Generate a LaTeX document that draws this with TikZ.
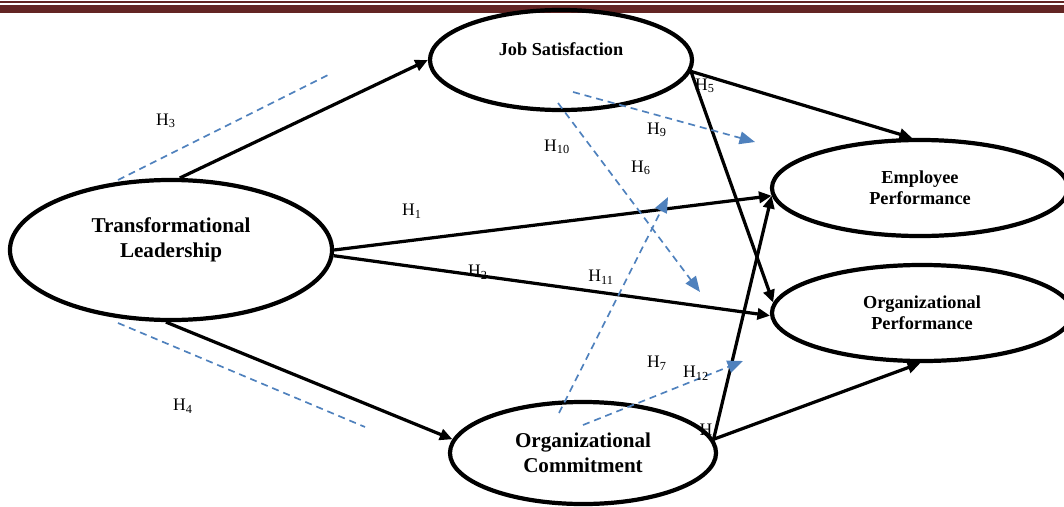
\documentclass[tikz,border=0pt]{standalone}
\usepackage{fontspec}
\setmainfont{Liberation Serif}
\usetikzlibrary{shapes.geometric,arrows.meta}
\definecolor{hdrred}{HTML}{632523}
\definecolor{hypblue}{HTML}{4F81BD}

\begin{document}
\begin{tikzpicture}[x=0.025cm,y=-0.025cm,
		construct/.style={ellipse, draw, line width=3pt, inner sep=0pt, align=center},
		bigtxt/.style={font=\fontsize{15}{17.5}\selectfont\bfseries},
		smalltxt/.style={font=\fontsize{13}{15}\selectfont\bfseries},
		effect/.style={line width=2.3pt, -{Triangle[length=9pt,width=8pt]}},
		hyp/.style={hypblue, line width=1.2pt, dash pattern=on 5pt off 3.5pt},
		hyparrow/.style={hyp, -{Triangle[length=11pt,width=9pt]}},
		hlab/.style={font=\fontsize{12.5}{14}\selectfont, inner sep=0pt}]
		\useasboundingbox (0,0) rectangle (1064,506);

		% header rule
		\fill[hdrred] (0,1) rectangle (1064,2.7);
		\fill[hdrred] (0,4.7) rectangle (1064,12.7);

		% constructs
		\draw (171,250) node[construct, bigtxt, minimum width=8.05cm, minimum height=3.5cm, text depth=17.5pt] (TL) {Transformational\\Leadership};
		\draw (561,60) node[construct, smalltxt, minimum width=6.55cm, minimum height=2.5cm, text depth=15pt] (JS) {Job Satisfaction};
		\draw (920,188) node[construct, smalltxt, minimum width=7.4cm, minimum height=2.4cm] (EP) {Employee\\Performance};
		\draw (922,313) node[construct, smalltxt, minimum width=7.5cm, minimum height=2.4cm] (OP) {Organizational\\Performance};
		\draw (583,453) node[construct, bigtxt, minimum width=6.65cm, minimum height=2.55cm] (OC) {Organizational\\Commitment};

		% direct paths
		\draw [effect] (TL.83) -- (JS.west);
		\draw [effect] (TL.east) -- (EP.183);
		\draw [effect] (TL.358) -- (OP.181);
		\draw [effect] (TL.266) -- (OC.174);
		\draw [effect] (JS.355) -- (EP.99);
		\draw [effect] (JS.355) -- (OP.176);
		\draw [effect] (OC.6) -- (EP.183);
		\draw [effect] (OC.6) -- (OP.268);

		% mediation lines
		\coordinate (h3a) at (118,180);
		\coordinate (h3b) at (328,75);
		\coordinate (h4a) at (118,323);
		\coordinate (h4b) at (365,427);
		\coordinate (h9a) at (573,92);
		\coordinate (h9b) at (755,142);
		\coordinate (h10a) at (558,103);
		\coordinate (h10b) at (700,292);
		\coordinate (h11a) at (559,413);
		\coordinate (h11b) at (668,197);
		\coordinate (h12a) at (583,425);
		\coordinate (h12b) at (743,361);

		\draw [hyp] (h3a) -- (h3b);
		\draw [hyp] (h4a) -- (h4b);
		\draw [hyparrow] (h9a) -- (h9b);
		\draw [hyparrow] (h10a) -- (h10b);
		\draw [hyparrow] (h11a) -- (h11b);
		\draw [hyparrow] (h12a) -- (h12b);

		% labels
		\draw (412,211) node[hlab] (l1) {H\textsubscript{1}};
		\draw (478,272) node[hlab] (l2) {H\textsubscript{2}};
		\draw (166,121) node[hlab] (l3) {H\textsubscript{3}};
		\draw (183,406) node[hlab] (l4) {H\textsubscript{4}};
		\draw (705,86) node[hlab] (l5) {H\textsubscript{5}};
		\draw (641,168) node[hlab] (l6) {H\textsubscript{6}};
		\draw (657,363) node[hlab] (l7) {H\textsubscript{7}};
		\draw (706,430) node[hlab] (l8) {H};
		\draw (657,130) node[hlab] (l9) {H\textsubscript{9}};
		\draw (557,147) node[hlab] (l10) {H\textsubscript{10}};
		\draw (601,277) node[hlab] (l11) {H\textsubscript{11}};
		\draw (696,373) node[hlab] (l12) {H\textsubscript{12}};
	\end{tikzpicture}
\end{document}
